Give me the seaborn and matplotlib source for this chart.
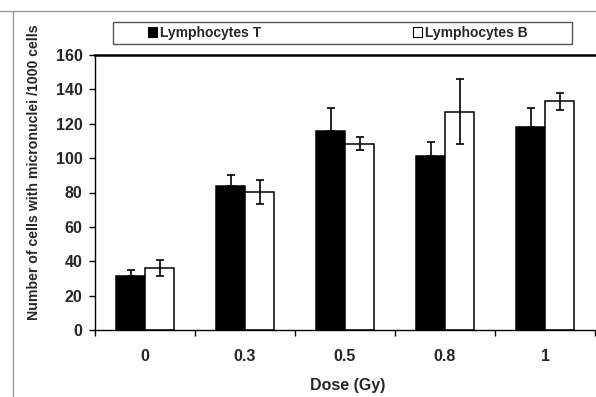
import numpy as np
import pandas as pd
import matplotlib
matplotlib.use("Agg")
import matplotlib.pyplot as plt
import seaborn as sns
from matplotlib.patches import Rectangle, Patch
from matplotlib.lines import Line2D

doses = ["0", "0.3", "0.5", "0.8", "1"]
lympho_t = [31.5, 84, 116, 101, 118]
lympho_t_err = [3.5, 6, 13, 8.5, 11]
lympho_b = [36, 80.5, 108.5, 127, 133]
lympho_b_err = [4.5, 7, 4, 19, 5]
series = ["Lymphocytes T", "Lymphocytes B"]
yticks = [0, 20, 40, 60, 80, 100, 120, 140, 160]

df = pd.DataFrame({
    "Dose": doses * 2,
    "Value": lympho_t + lympho_b,
    "Cell": [series[0]] * len(doses) + [series[1]] * len(doses),
})

sns.set_style("white")
plt.rcParams["font.family"] = ["Liberation Sans", "DejaVu Sans"]
plt.rcParams["font.weight"] = "bold"

fig = plt.figure(figsize=(5.96, 3.97), dpi=100)
W, H = 596, 397
ax = fig.add_axes([95 / W, 1 - 330 / H, 500 / W, 275 / H])

sns.barplot(data=df, x="Dose", y="Value", hue="Cell", order=doses,
            hue_order=series, palette=["black", "white"], width=0.58,
            edgecolor="black", linewidth=1.1, errorbar=None, legend=False, ax=ax)

errs = [lympho_t_err, lympho_b_err]
vals = [lympho_t, lympho_b]
bar_conts = list(ax.containers)
for i, cont in enumerate(bar_conts):
    xs = [b.get_x() + b.get_width() / 2 for b in cont]
    if i == 0:
        yerr = [np.zeros(len(xs)), errs[i]]
    else:
        yerr = errs[i]
    ax.errorbar(xs, vals[i], yerr=yerr, fmt="none", ecolor="black",
                elinewidth=1.2, capsize=3, capthick=1.2, zorder=5)

ax.set_xlim(-0.5, 4.5)
ax.set_ylim(0, 160)
ax.set_yticks(yticks)
ax.set_yticklabels([str(v) for v in yticks], fontsize=11.5, fontweight="bold")
ax.set_xticks(range(len(doses)))
ax.set_xticklabels(doses, fontsize=11.5, fontweight="bold")
ax.set_xticks(np.arange(-0.5, 4.6, 1.0), minor=True)
ax.tick_params(axis="x", which="major", length=0, pad=14)
ax.tick_params(axis="x", which="minor", length=4, width=1, direction="out", color="black", bottom=True)
ax.tick_params(axis="y", length=4, width=1, direction="out", color="black", pad=5, left=True)

ax.set_xlabel("Dose (Gy)", fontsize=11.5, fontweight="bold")
ax.xaxis.set_label_coords(0.506, -0.175)
ax.set_ylabel("Number of cells with micronuclei /1000 cells", fontsize=10.2,
              fontweight="bold")
ax.yaxis.set_label_coords(-0.108, 0.575)

for s in ["left", "bottom", "top"]:
    ax.spines[s].set_visible(True)
    ax.spines[s].set_color("black")
ax.spines["left"].set_linewidth(1.0)
ax.spines["bottom"].set_linewidth(1.0)
ax.spines["top"].set_linewidth(1.8)
ax.spines["right"].set_visible(False)

# legend frame and entries
fig.patches.append(Rectangle((113 / W, 1 - 44 / H), (572 - 113) / W, 22 / H,
                             transform=fig.transFigure, fill=False,
                             edgecolor="#555555", linewidth=1.0))
handles = [Patch(facecolor="black", edgecolor="black", linewidth=0.8),
           Patch(facecolor="white", edgecolor="black", linewidth=0.8)]
fig.legend(handles, series, loc="center", bbox_to_anchor=(338 / W, 1 - 33 / H),
           ncol=2, frameon=False, handlelength=0.65, handleheight=0.65,
           handletextpad=0.25, columnspacing=10.9,
           prop={"size": 10, "weight": "bold"})

# scanned page border lines
fig.lines.append(Line2D([0, 1], [1 - 11 / H, 1 - 11 / H], transform=fig.transFigure,
                        color="#999999", linewidth=1.0))
fig.lines.append(Line2D([13 / W, 13 / W], [0, 1 - 11 / H], transform=fig.transFigure,
                        color="#999999", linewidth=1.0))

fig.savefig("out.png", dpi=100)
